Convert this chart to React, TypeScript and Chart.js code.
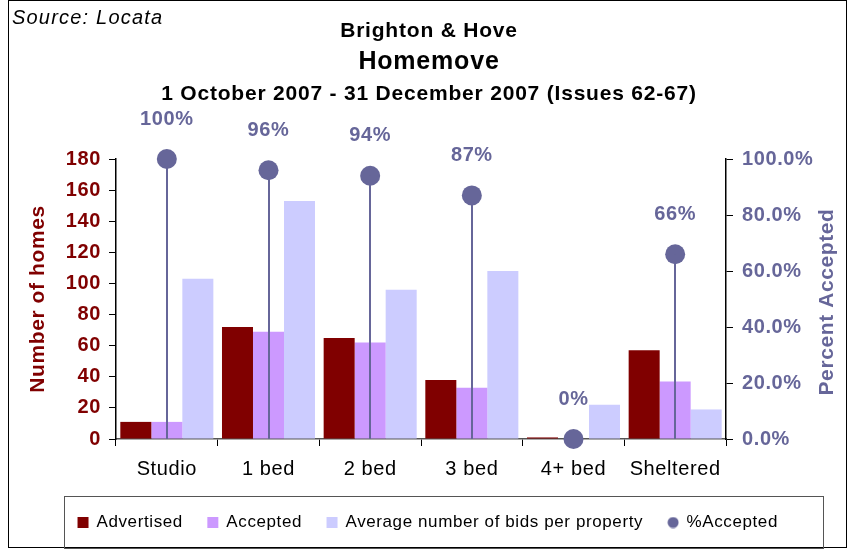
import React, { useEffect, useRef } from 'react';
import { Chart, registerables } from 'chart.js';

Chart.register(...registerables);

const categories = ['Studio', '1 bed', '2 bed', '3 bed', '4+ bed', 'Sheltered'];
const advertised = [11, 72, 65, 38, 1, 57];
const accepted = [11, 69, 62, 33, 0, 37];
const avgBids = [103, 153, 96, 108, 22, 19];
const pctAccepted = [1.0, 0.96, 0.94, 0.87, 0.0, 0.66];

const seriesNames = ['Advertised', 'Accepted', 'Average number of bids per property', '%Accepted'];
const titleLines = ['Brighton & Hove', 'Homemove', '1 October 2007 - 31 December 2007 (Issues 62-67)'];
const sourceText = 'Source: Locata';
const leftAxisTitle = 'Number of homes';
const rightAxisTitle = 'Percent Accepted';

const leftMax = 180;
const leftStep = 20;
const rightMax = 1;
const rightStep = 0.2;

const C_ADV = '#800000';
const C_ACC = '#CC99FF';
const C_AVG = '#CCCCFF';
const C_PCT = '#666699';
const FONT = '"Liberation Sans", Arial, sans-serif';

function makeDot(): HTMLCanvasElement {
  const c = document.createElement('canvas');
  c.width = 12;
  c.height = 12;
  const g = c.getContext('2d')!;
  g.fillStyle = C_PCT;
  g.beginPath();
  g.arc(6, 6, 5.5, 0, Math.PI * 2);
  g.fill();
  return c;
}

const decorPlugin = {
  id: 'decor',
  beforeLayout(chart: any) {
    chart.ctx.letterSpacing = '0.6px';
  },
  beforeDraw(chart: any) {
    const ctx = chart.ctx;
    ctx.letterSpacing = '0.6px';
    ctx.save();
    ctx.fillStyle = '#ffffff';
    ctx.fillRect(0, 0, chart.width, chart.height);
    ctx.restore();
  },
  afterDatasetsDraw(chart: any) {
    const ctx = chart.ctx;
    const meta = chart.getDatasetMeta(3);
    const yBottom = chart.scales.y1.getPixelForValue(0);
    ctx.save();
    ctx.strokeStyle = C_PCT;
    ctx.lineWidth = 2;
    meta.data.forEach((pt: any) => {
      ctx.beginPath();
      ctx.moveTo(Math.round(pt.x), pt.y);
      ctx.lineTo(Math.round(pt.x), yBottom);
      ctx.stroke();
    });
    ctx.fillStyle = C_PCT;
    ctx.font = 'bold 20px ' + FONT;
    ctx.letterSpacing = '0.6px';
    ctx.textAlign = 'center';
    ctx.textBaseline = 'middle';
    meta.data.forEach((pt: any, i: number) => {
      const label = Math.round(pctAccepted[i] * 100) + '%';
      ctx.fillText(label, pt.x, pt.y - 40);
    });
    ctx.restore();
  },
  afterDraw(chart: any) {
    const ctx = chart.ctx;
    ctx.save();
    // outer frame
    ctx.strokeStyle = '#000';
    ctx.lineWidth = 1;
    ctx.strokeRect(8.5, 0.5, 838, 547);
    // titles
    ctx.fillStyle = '#000';
    ctx.textAlign = 'center';
    ctx.textBaseline = 'middle';
    ctx.letterSpacing = '0.8px';
    ctx.font = 'bold 21px ' + FONT;
    ctx.fillText(titleLines[0], 429, 31);
    ctx.font = 'bold 25px ' + FONT;
    ctx.fillText(titleLines[1], 429, 62);
    ctx.font = 'bold 21px ' + FONT;
    ctx.fillText(titleLines[2], 429, 94);
    ctx.textAlign = 'left';
    ctx.font = 'italic 20px ' + FONT;
    ctx.letterSpacing = '1.2px';
    ctx.fillText(sourceText, 12, 18);
    ctx.letterSpacing = '0.6px';
    // right axis title (reads bottom to top)
    const area = chart.chartArea;
    ctx.save();
    ctx.translate(827, (area.top + area.bottom) / 2 + 3);
    ctx.rotate(-Math.PI / 2);
    ctx.textAlign = 'center';
    ctx.fillStyle = C_PCT;
    ctx.font = 'bold 21px ' + FONT;
    ctx.fillText(rightAxisTitle, 0, 0);
    ctx.restore();
    // legend frame
    const lg = chart.legend;
    if (lg && lg.legendHitBoxes && lg.legendHitBoxes.length) {
      const boxes = lg.legendHitBoxes;
      const first = boxes[0];
      const last = boxes[boxes.length - 1];
      const l = first.left - 14;
      const r = last.left + last.width + 45;
      const cy = first.top + first.height / 2;
      ctx.strokeStyle = '#555';
      ctx.lineWidth = 1;
      ctx.strokeRect(Math.round(l) + 0.5, Math.round(cy - 27) + 0.5, Math.round(r - l), 52);
    }
    ctx.restore();
  },
};

export default function App() {
  const ref = useRef<HTMLCanvasElement | null>(null);
  useEffect(() => {
    if (!ref.current) return;
    const dot = makeDot();
    const chart = new Chart(ref.current, {
      type: 'bar',
      data: {
        labels: categories,
        datasets: [
          {
            label: seriesNames[0],
            data: advertised,
            backgroundColor: C_ADV,
            yAxisID: 'y',
            categoryPercentage: 0.915,
            barPercentage: 1.0,
            pointStyle: 'rect',
            order: 1,
          } as any,
          {
            label: seriesNames[1],
            data: accepted,
            backgroundColor: C_ACC,
            yAxisID: 'y',
            categoryPercentage: 0.915,
            barPercentage: 1.0,
            pointStyle: 'rect',
            order: 1,
          },
          {
            label: seriesNames[2],
            data: avgBids,
            backgroundColor: C_AVG,
            yAxisID: 'y',
            categoryPercentage: 0.915,
            barPercentage: 1.0,
            pointStyle: 'rect',
            order: 1,
          },
          {
            type: 'line',
            label: seriesNames[3],
            data: pctAccepted,
            yAxisID: 'y1',
            showLine: false,
            clip: false,
            pointRadius: 10,
            pointHoverRadius: 10,
            pointBackgroundColor: C_PCT,
            pointBorderWidth: 0,
            borderColor: C_PCT,
            backgroundColor: C_PCT,
            pointStyle: 'circle',
            order: 0,
          } as any,
        ],
      },
      options: {
        animation: false,
        responsive: false,
        maintainAspectRatio: false,
        layout: { padding: { left: 10, right: 7, top: 159, bottom: 9 } },
        plugins: {
          tooltip: { enabled: false },
          title: { display: false },
          legend: {
            position: 'bottom',
            labels: {
              usePointStyle: true,
              boxWidth: 10,
              boxHeight: 11,
              padding: 25,
              color: '#000',
              font: { family: FONT, size: 17 },
              sort: (a: any, b: any) => a.datasetIndex - b.datasetIndex,
              generateLabels: (chart: any) => {
                const items = Chart.defaults.plugins.legend.labels.generateLabels(chart);
                items.forEach((it: any) => {
                  if (it.datasetIndex === 3) it.pointStyle = dot;
                  it.lineWidth = 0;
                  it.strokeStyle = 'rgba(0,0,0,0)';
                });
                return items;
              },
            },
          },
        },
        scales: {
          x: {
            type: 'category',
            offset: true,
            afterFit: (s: any) => { s.height = 50; },
            grid: {
              display: true,
              offset: true,
              drawOnChartArea: false,
              tickLength: 7,
              color: '#000',
            },
            border: { display: true, color: '#555', width: 1.5 },
            ticks: {
              color: '#000',
              padding: 11,
              font: { family: FONT, size: 20 },
              maxRotation: 0,
            },
          },
          y: {
            position: 'left',
            min: 0,
            max: leftMax,
            afterFit: (s: any) => { s.width = 106; },
            ticks: {
              stepSize: leftStep,
              color: C_ADV,
              padding: 8,
              font: { family: FONT, size: 20, weight: 'bold' },
            },
            grid: { drawOnChartArea: false, tickLength: 7, color: '#000' },
            border: { display: true, color: '#000', width: 1.5 },
            title: {
              display: true,
              text: leftAxisTitle,
              color: C_ADV,
              padding: { top: 16, bottom: 0 },
              font: { family: FONT, size: 21, weight: 'bold' },
            },
          },
          y1: {
            position: 'right',
            min: 0,
            max: rightMax,
            afterFit: (s: any) => { s.width = 120; },
            ticks: {
              stepSize: rightStep,
              color: C_PCT,
              padding: 9,
              font: { family: FONT, size: 20, weight: 'bold' },
              callback: (v: any) => (Number(v) * 100).toFixed(1) + '%',
            },
            grid: { drawOnChartArea: false, tickLength: 7, color: '#000' },
            border: { display: true, color: '#000', width: 1.5 },
          },
        },
      },
      plugins: [decorPlugin],
    } as any);
    return () => chart.destroy();
  }, []);
  return (
    <div style={{ position: 'absolute', left: 0, top: 0, width: 853, height: 550, background: '#fff' }}>
      <canvas ref={ref} width={853} height={550} style={{ width: 853, height: 550, display: 'block' }} />
    </div>
  );
}
